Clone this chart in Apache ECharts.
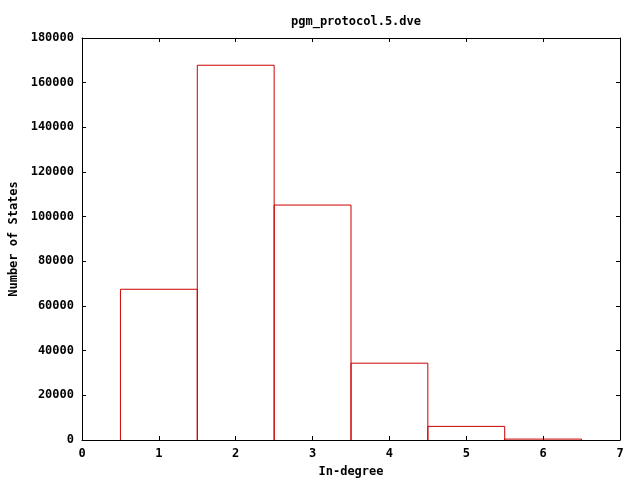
<!DOCTYPE html>
<html>
<head>
<meta charset="utf-8">
<script src="https://cdn.jsdelivr.net/npm/echarts@6/dist/echarts.min.js"></script>
<style>html,body{margin:0;padding:0;background:#fff}#c{width:640px;height:480px}</style>
</head>
<body>
<div id="c"></div>
<script>
var categories = [1, 2, 3, 4, 5, 6];
var values = [67500, 167800, 105200, 34400, 6100, 400];
var xTicks = [0, 1, 2, 3, 4, 5, 6, 7];
var yTicks = [0, 20000, 40000, 60000, 80000, 100000, 120000, 140000, 160000, 180000];

var font = '"DejaVu Sans Mono", "Liberation Mono", monospace';
var chart = echarts.init(document.getElementById('c'));
var data = categories.map(function (c, i) { return [c, values[i]]; });
var axisCommon = {
  axisLine: { show: true, onZero: false, lineStyle: { color: '#000', width: 1 } },
  axisTick: { show: true, inside: true, length: 4, lineStyle: { color: '#000' } },
  splitLine: { show: false }
};
chart.setOption({
  animation: false,
  backgroundColor: '#fff',
  title: {
    text: 'pgm_protocol.5.dve', left: 351, top: 11, textAlign: 'center',
    textStyle: { fontFamily: font, fontSize: 12, fontWeight: 'bold', color: '#000' }
  },
  grid: { left: 82, right: 20, top: 38, bottom: 40, containLabel: false, outerBoundsMode: 'none' },
  xAxis: [
    Object.assign({
      type: 'value', min: 0, max: 7, interval: 1, position: 'bottom',
      name: 'In-degree', nameLocation: 'middle', nameGap: 26,
      nameTextStyle: { fontFamily: font, fontSize: 12, fontWeight: 'bold', color: '#000' },
      axisLabel: { fontFamily: font, fontSize: 12, fontWeight: 'bold', color: '#000', margin: 8,
        formatter: function (v) { return xTicks.indexOf(v) >= 0 ? String(v) : ''; } }
    }, axisCommon),
    Object.assign({
      type: 'value', min: 0, max: 7, interval: 1, position: 'top', axisLabel: { show: false }
    }, axisCommon)
  ],
  yAxis: [
    Object.assign({
      type: 'value', min: 0, max: 180000, interval: 20000, position: 'left',
      name: 'Number of States', nameLocation: 'middle', nameGap: 62, nameRotate: 90,
      nameTextStyle: { fontFamily: font, fontSize: 12, fontWeight: 'bold', color: '#000' },
      axisLabel: { fontFamily: font, fontSize: 12, fontWeight: 'bold', color: '#000', margin: 8,
        formatter: function (v) { return yTicks.indexOf(v) >= 0 ? String(v) : ''; } }
    }, axisCommon),
    Object.assign({
      type: 'value', min: 0, max: 180000, interval: 20000, position: 'right', axisLabel: { show: false }
    }, axisCommon)
  ],
  series: [{
    type: 'custom',
    xAxisIndex: 0, yAxisIndex: 0,
    data: data,
    renderItem: function (params, api) {
      var x = api.value(0), y = api.value(1);
      var p0 = api.coord([x - 0.5, 0]);
      var p1 = api.coord([x + 0.5, y]);
      return {
        type: 'polyline',
        shape: { points: [[p0[0], p0[1]], [p0[0], p1[1]], [p1[0], p1[1]], [p1[0], p0[1]]] },
        style: { fill: null, stroke: '#cc0000', lineWidth: 1 }
      };
    }
  }]
});
</script>
</body>
</html>
